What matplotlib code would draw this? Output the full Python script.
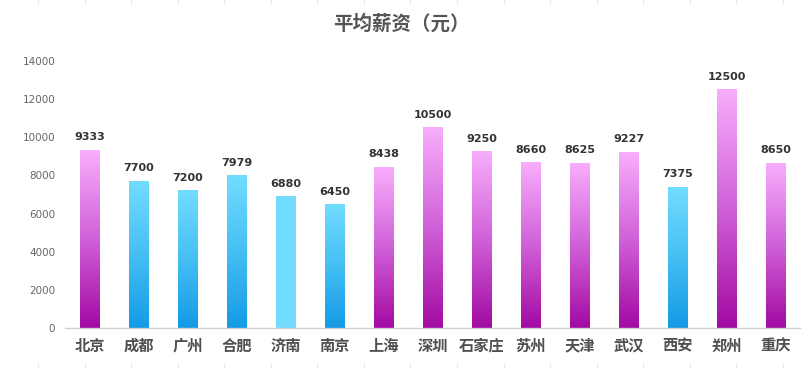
import matplotlib
matplotlib.use("Agg")
import matplotlib.pyplot as plt
import numpy as np
from matplotlib.colors import LinearSegmentedColormap
from matplotlib.lines import Line2D

plt.rcParams['font.family'] = ['Noto Sans CJK SC', 'DejaVu Sans']

cities = ['北京', '成都', '广州', '合肥', '济南', '南京', '上海', '深圳', '石家庄',
          '苏州', '天津', '武汉', '西安', '郑州', '重庆']
salaries = [9333, 7700, 7200, 7979, 6880, 6450, 8438, 10500, 9250,
            8660, 8625, 9227, 7375, 12500, 8650]
styles = ['pink', 'blue', 'blue', 'blue', 'solid', 'blue', 'pink', 'pink', 'pink',
          'pink', 'pink', 'pink', 'blue', 'pink', 'pink']
yticks = [0, 2000, 4000, 6000, 8000, 10000, 12000, 14000]
title = '平均薪资（元）'

cmaps = {
    'pink': LinearSegmentedColormap.from_list('pk', ['#a20aa2', '#d060d8', '#f8aefc']),
    'blue': LinearSegmentedColormap.from_list('bl', ['#159ae6', '#45bff3', '#72dcff']),
    'solid': LinearSegmentedColormap.from_list('sd', ['#72dcfe', '#72dcfe']),
}

fig = plt.figure(figsize=(8.09, 3.68), dpi=100)
ax = fig.add_axes([65/809, 40/368, 735/809, 267/368])

x = np.arange(len(cities))
w = 0.39
grad = np.linspace(0, 1, 256).reshape(-1, 1)
bars = ax.bar(x, salaries, width=w, color='none', edgecolor='none')
for xi, v, st in zip(x, salaries, styles):
    ax.imshow(grad, extent=(xi - w/2, xi + w/2, 0, v), origin='lower',
              aspect='auto', cmap=cmaps[st], zorder=2)
    ax.text(xi, v + 420, f'{v}', ha='center', va='bottom', fontsize=8,
            fontweight='bold', color='#333333', family=['DejaVu Sans'])

ax.set_xlim(-0.5, len(cities) - 0.5)
ax.set_ylim(0, 14000)
ax.set_yticks(yticks)
ax.set_yticklabels([str(t) for t in yticks], fontsize=7.5, color='#666666',
                   family=['DejaVu Sans'])
ax.set_xticks(x)
ax.set_xticklabels(cities, fontsize=11, color='#505050', fontweight='bold')
ax.tick_params(axis='both', length=0)
ax.tick_params(axis='y', pad=7)
ax.tick_params(axis='x', pad=7)
for s in ['top', 'right', 'left']:
    ax.spines[s].set_visible(False)
ax.spines['bottom'].set_color('#d0d0d0')
ax.spines['bottom'].set_linewidth(1)

fig.text(401/809, 1 - 24/368, title, ha='center', va='center', fontsize=14,
         fontweight='bold', color='#555555')

# faint frame ticks at top and bottom edges
for px in np.arange(38, 809, 46.55):
    fig.add_artist(Line2D([px/809, px/809], [1 - 3/368, 1], color='#e6e6e6', lw=0.8))
    fig.add_artist(Line2D([px/809, px/809], [0, 4/368], color='#e6e6e6', lw=0.8))

fig.savefig('out.png', dpi=100)
